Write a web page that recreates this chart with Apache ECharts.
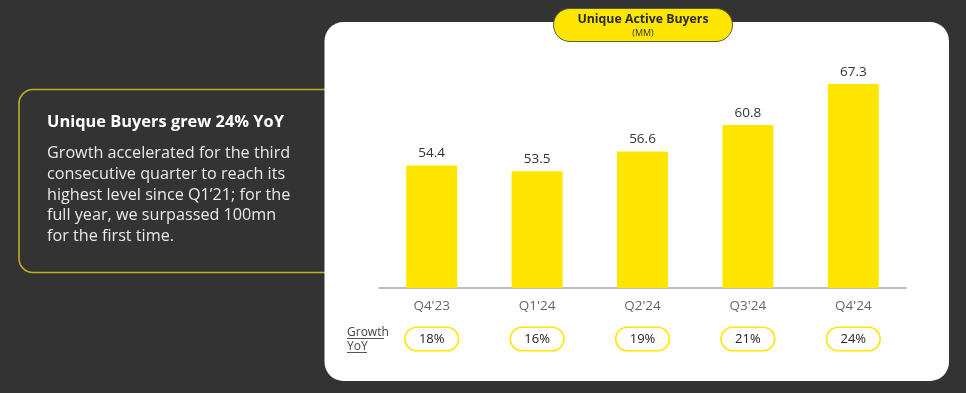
<!DOCTYPE html>
<html><head><meta charset="utf-8">
<script src="https://cdn.jsdelivr.net/npm/echarts@6/dist/echarts.min.js"></script>
<style>html,body{margin:0;padding:0;background:#333333;}#c{width:966px;height:393px;}</style>
</head><body><div id="c"></div>
<script>
const categories = ["Q4'23", "Q1'24", "Q2'24", "Q3'24", "Q4'24"];
const buyers = [54.4, 53.5, 56.6, 60.8, 67.3];
const growthYoY = ["18%", "16%", "19%", "21%", "24%"];
const chartTitle = "Unique Active Buyers";
const chartUnit = "(MM)";
const boxTitle = "Unique Buyers grew 24% YoY";
const boxLines = ["Growth accelerated for the third", "consecutive quarter to reach its", "highest level since Q1\u201921; for the", "full year, we surpassed 100mn", "for the first time."];

const FONT = "'Open Sans', 'Noto Sans', sans-serif";
const chart = echarts.init(document.getElementById('c'), null, {renderer: 'canvas'});
const graphics = [
  {type: 'rect', z: -20, shape: {x: 19, y: 89.5, width: 340, height: 183, r: 14}, style: {fill: 'none', stroke: '#c4ad1c', lineWidth: 1.6}},
  {type: 'rect', z: -10, shape: {x: 324.5, y: 22, width: 624.5, height: 359, r: 19}, style: {fill: '#ffffff'}},
  {type: 'text', z: 5, left: 47, top: 114, style: {text: boxTitle, fill: '#ffffff', font: 'bold 16.4px ' + FONT}},
  {type: 'text', z: 5, left: 47, top: 143, style: {text: boxLines.join('\n'), fill: '#e9e9e9', font: '16.2px ' + FONT, lineHeight: 20.8}},
  {type: 'rect', z: 5, shape: {x: 553.5, y: 8.5, width: 179, height: 33, r: 16.5}, style: {fill: '#ffe600', stroke: '#5a5a40', lineWidth: 1}},
  {type: 'text', z: 6, x: 643, y: 19.5, style: {text: chartTitle, fill: '#2a2a2a', font: 'bold 12.3px ' + FONT, align: 'center', verticalAlign: 'middle'}},
  {type: 'text', z: 6, x: 643, y: 33, style: {text: chartUnit, fill: '#333', font: '9px ' + FONT, align: 'center', verticalAlign: 'middle'}},
  {type: 'text', z: 6, left: 347, top: 326, style: {text: 'Growth\nYoY', fill: '#444444', font: '12px ' + FONT, lineHeight: 13.5}},
  {type: 'line', z: 6, shape: {x1: 347, y1: 338.5, x2: 384, y2: 338.5}, style: {stroke: '#555', lineWidth: 1}},
  {type: 'line', z: 6, shape: {x1: 347, y1: 352.5, x2: 367, y2: 352.5}, style: {stroke: '#555', lineWidth: 1}}
];
chart.setOption({
  backgroundColor: '#333333',
  animation: false,
  textStyle: {fontFamily: FONT},
  graphic: graphics,
  grid: {left: 379, right: 60, top: 67, bottom: 105},
  xAxis: [
    {type: 'category', data: categories, position: 'bottom',
     axisLine: {show: true, lineStyle: {color: '#a8a8a8', width: 1.5}},
     axisTick: {show: false},
     axisLabel: {color: '#666666', fontSize: 13.5, margin: 11, fontFamily: FONT}},
    {type: 'category', data: growthYoY, position: 'bottom',
     axisLine: {show: false}, axisTick: {show: false},
     axisLabel: {color: '#222222', fontSize: 13, margin: 40, fontFamily: FONT,
       width: 52, align: 'center', padding: [3, 0, 3, 0], lineHeight: 16,
       backgroundColor: '#ffffff', borderColor: '#ffe600', borderWidth: 1.6, borderRadius: 11}}
  ],
  yAxis: {type: 'value', min: 35, max: 70, show: false, splitLine: {show: false}},
  series: [{
    type: 'bar', data: buyers, barWidth: 51, xAxisIndex: 0,
    itemStyle: {color: '#ffe600'},
    label: {show: true, position: 'top', distance: 5, color: '#333333', fontSize: 13.5, fontFamily: FONT}
  }]
});
</script></body></html>
